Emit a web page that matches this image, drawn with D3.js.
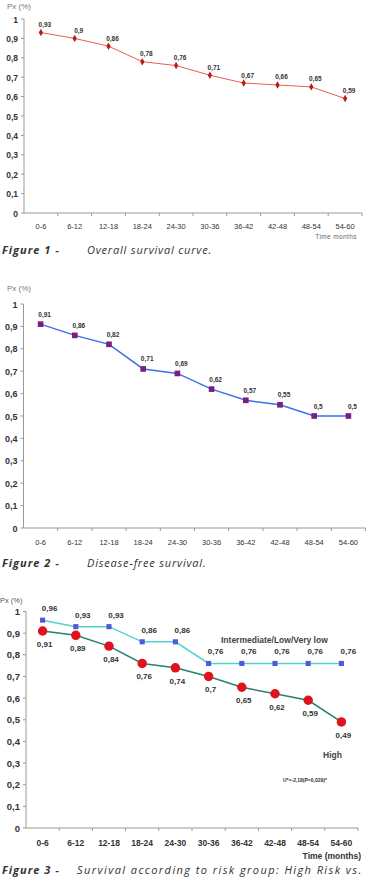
<!DOCTYPE html>
<html>
<head>
<meta http-equiv="Content-type" content="text/html; charset=utf-8">
<title>Survival curves</title>
<script src="https://cdn.jsdelivr.net/npm/d3@7"></script>
<style>
  body { margin:0; background:#fff; }
  svg text { font-family: "Liberation Sans", Arial, sans-serif; }
  .cap { font-family: "Open Sans", sans-serif; font-style: italic; fill:#333; }
</style>
</head>
<body>
<script type="text/javascript">

  // periods on the x axis (same for all 3 figures)
  var periods = ["0-6","6-12","12-18","18-24","24-30","30-36","36-42","42-48","48-54","54-60"];
  var yTicks = [0,0.1,0.2,0.3,0.4,0.5,0.6,0.7,0.8,0.9,1];

  // fig 1 - overall survival
  var overall = [0.93,0.9,0.86,0.78,0.76,0.71,0.67,0.66,0.65,0.59];
  // fig 2 - disease free
  var diseaseFree = [0.91,0.86,0.82,0.71,0.69,0.62,0.57,0.55,0.5,0.5];
  // fig 3 - by risk group
  var lowRisk = [0.96,0.93,0.93,0.86,0.86,0.76,0.76,0.76,0.76,0.76];
  var highRisk = [0.91,0.89,0.84,0.76,0.74,0.7,0.65,0.62,0.59,0.49];

  var W = 367, H = 881;
  var svg = d3.select("body").append("svg").attr("width", W).attr("height", H);

  function comma(v) { return String(v).replace(".", ","); }

  function drawAxes(g, x, y, opt) {
    var axCol = "#999";
    // y axis
    g.append("line").attr("x1", x.range()[0]).attr("x2", x.range()[0])
      .attr("y1", y(0)).attr("y2", y(1)).attr("stroke", axCol);
    g.selectAll(".yt").data(yTicks).enter().append("line")
      .attr("x1", x.range()[0] - 3).attr("x2", x.range()[0])
      .attr("y1", function(d){ return y(d); }).attr("y2", function(d){ return y(d); })
      .attr("stroke", axCol);
    g.selectAll(".yl").data(yTicks).enter().append("text")
      .attr("x", x.range()[0] - 6).attr("y", function(d){ return y(d) + 3.5; })
      .attr("text-anchor", "end").attr("font-size", opt.yFont).attr("font-weight", "bold")
      .attr("fill", "#333").text(function(d){ return comma(d); });
    // x axis
    g.append("line").attr("x1", x.range()[0]).attr("x2", x.range()[1])
      .attr("y1", y(0)).attr("y2", y(0)).attr("stroke", axCol);
    var bounds = periods.map(function(p){ return x(p) + x.bandwidth(); });
    g.selectAll(".xt").data(bounds).enter().append("line")
      .attr("x1", function(d){ return d; }).attr("x2", function(d){ return d; })
      .attr("y1", y(0)).attr("y2", y(0) + 3).attr("stroke", axCol);
    g.selectAll(".xl").data(periods).enter().append("text")
      .attr("x", function(d){ return x(d) + x.bandwidth() / 2; })
      .attr("y", y(0) + opt.xLabDy)
      .attr("text-anchor", "middle").attr("font-size", opt.xFont)
      .attr("font-weight", opt.xBold ? "bold" : "normal")
      .attr("fill", "#333").text(function(d){ return d; });
  }

  function drawSeries(g, x, y, vals, s) {
    var line = d3.line()
      .x(function(d, i){ return x(periods[i]) + x.bandwidth() / 2; })
      .y(function(d){ return y(d); });
    g.append("path").datum(vals).attr("d", line)
      .attr("fill", "none").attr("stroke", s.lineColor).attr("stroke-width", s.lineWidth);
    g.selectAll(null).data(vals).enter().append("path")
      .attr("d", d3.symbol().type(s.symbol).size(s.size))
      .attr("transform", function(d, i){
        return "translate(" + (x(periods[i]) + x.bandwidth() / 2) + "," + y(d) + ")"; })
      .attr("fill", s.markColor);
    g.selectAll(null).data(vals).enter().append("text")
      .attr("x", function(d, i){ return x(periods[i]) + x.bandwidth() / 2 + s.dx; })
      .attr("y", function(d){ return y(d) + s.dy; })
      .attr("text-anchor", "middle").attr("font-size", s.labFont).attr("font-weight", "bold")
      .attr("fill", "#333").text(function(d){ return comma(d); });
  }

  function caption(yPos, num, text, extra) {
    svg.append("text").attr("class", "cap").attr("x", 2).attr("y", yPos)
      .attr("font-size", 11).attr("font-weight", "bold").attr("letter-spacing", 1)
      .text("Figure " + num + " -");
    var t = svg.append("text").attr("class", "cap").attr("x", 87).attr("y", yPos)
      .attr("font-size", 11).attr("letter-spacing", 0.8).attr("fill", "#444").text(text);
    if (extra) t.attr("x", extra.x).attr("textLength", extra.len).attr("lengthAdjust", "spacing");
  }

  // ---------- Figure 1 ----------
  var g1 = svg.append("g");
  var x1 = d3.scaleBand().domain(periods).range([24, 362]);
  var y1 = d3.scaleLinear().domain([0, 1]).range([213, 19]);
  g1.append("text").attr("x", 7).attr("y", 9).attr("font-size", 8).attr("fill", "#777").text("Px (%)");
  drawAxes(g1, x1, y1, {yFont: 8.5, xFont: 7.5, xBold: false, xLabDy: 16});
  drawSeries(g1, x1, y1, overall, {lineColor: "#ee5a55", lineWidth: 1, markColor: "#c01818",
    symbol: d3.symbolDiamond, size: 16, dx: 4, dy: -5.5, labFont: 6.5});
  g1.append("text").attr("x", 357).attr("y", 239).attr("text-anchor", "end")
    .attr("font-size", 6.5).attr("fill", "#666").attr("letter-spacing", 0.4).text("Time months");
  caption(254, 1, "Overall survival curve.");

  // ---------- Figure 2 ----------
  var g2 = svg.append("g");
  var x2 = d3.scaleBand().domain(periods).range([23.5, 365.5]);
  var y2 = d3.scaleLinear().domain([0, 1]).range([528, 304]);
  g2.append("text").attr("x", 7).attr("y", 291).attr("font-size", 8).attr("fill", "#777").text("Px (%)");
  drawAxes(g2, x2, y2, {yFont: 9, xFont: 7.5, xBold: false, xLabDy: 17});
  drawSeries(g2, x2, y2, diseaseFree, {lineColor: "#3f6fe8", lineWidth: 1.5, markColor: "#7a1f80",
    symbol: d3.symbolSquare, size: 32, dx: 4, dy: -7.5, labFont: 6.5});
  caption(567, 2, "Disease-free survival.");

  // ---------- Figure 3 ----------
  var g3 = svg.append("g");
  var x3 = d3.scaleBand().domain(periods).range([26, 358]);
  var y3 = d3.scaleLinear().domain([0, 1]).range([828, 611.5]);
  g3.append("text").attr("x", 0).attr("y", 603).attr("font-size", 7.5).attr("fill", "#555").text("Px (%)");
  drawAxes(g3, x3, y3, {yFont: 9.5, xFont: 8.5, xBold: true, xLabDy: 18});
  drawSeries(g3, x3, y3, lowRisk, {lineColor: "#4fd3cb", lineWidth: 1.5, markColor: "#5555e0",
    symbol: d3.symbolSquare, size: 26, dx: 7, dy: -9, labFont: 8});
  drawSeries(g3, x3, y3, highRisk, {lineColor: "#26806f", lineWidth: 1.5, markColor: "#e0121c",
    symbol: d3.symbolCircle, size: 70, dx: 2, dy: 16, labFont: 8});
  g3.append("text").attr("x", 221).attr("y", 643).attr("font-size", 8.5).attr("font-weight", "bold")
    .attr("fill", "#444").text("Intermediate/Low/Very low");
  g3.append("text").attr("x", 323).attr("y", 758).attr("font-size", 8.5).attr("font-weight", "bold")
    .attr("fill", "#444").text("High");
  g3.append("text").attr("x", 283).attr("y", 782).attr("font-size", 5).attr("font-weight", "bold")
    .attr("fill", "#333").text("U*=-2,18(P=0,029)*");
  g3.append("text").attr("x", 361).attr("y", 859).attr("text-anchor", "end").attr("font-size", 8.5)
    .attr("font-weight", "bold").attr("fill", "#333").text("Time (months)");
  caption(874, 3, "Survival according to risk group: High Risk vs.", {x: 77, len: 285});

</script>
</body>
</html>
